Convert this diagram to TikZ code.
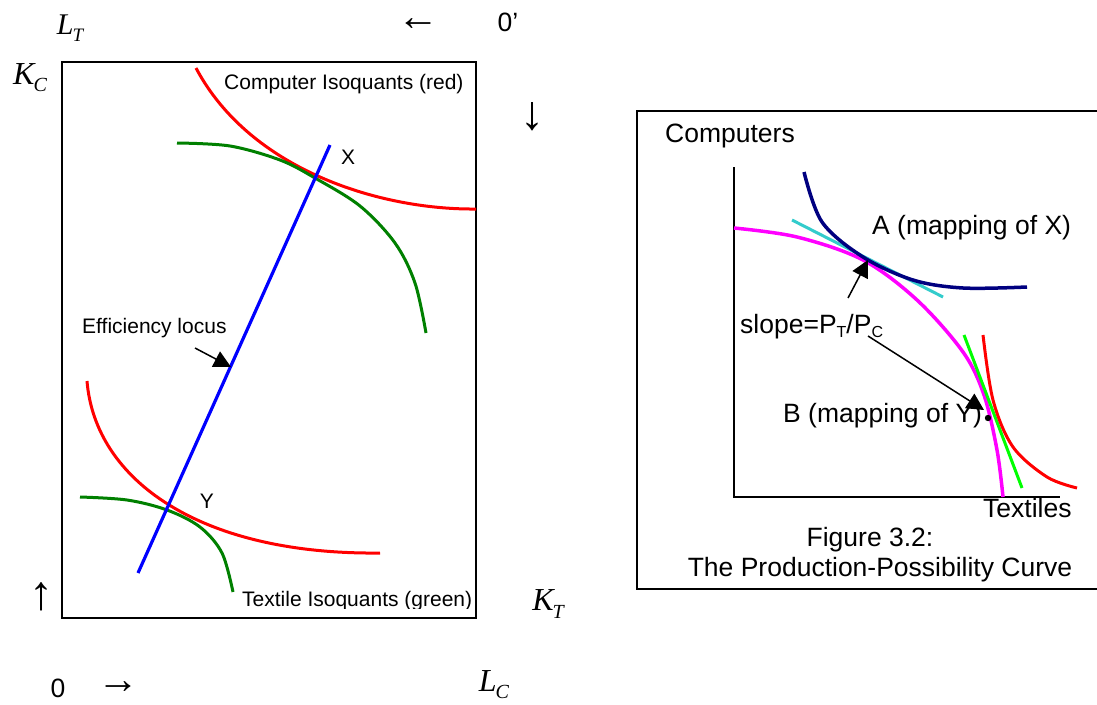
\documentclass[tikz,border=0pt]{standalone}
\usepackage{fontspec}
\setmainfont{Liberation Sans}
\newfontfamily\tnr{Liberation Serif}
\usetikzlibrary{arrows.meta}
\definecolor{dkgreen}{RGB}{0,128,0}
\definecolor{navyc}{RGB}{0,0,128}
\definecolor{cyanc}{RGB}{51,204,204}
\definecolor{brgreen}{RGB}{0,255,0}
\definecolor{magc}{RGB}{255,0,255}
\definecolor{redc}{RGB}{255,0,0}
\newcommand\sbs[1]{\raisebox{-4pt}{\fontsize{16}{16}\selectfont #1}}
\newcommand\msub[4]{{\fontsize{#3}{#3}\selectfont\tnr\itshape #1\kern-1pt\raisebox{-0.22em}{\fontsize{#4}{#4}\selectfont #2}}}
\tikzset{
  lbl/.style={font=\fontsize{21}{21}\selectfont, inner sep=0pt},
  big/.style={font=\fontsize{26.5}{26.5}\selectfont, inner sep=0pt},
  mth/.style={inner sep=0pt},
  harw/.style={inner sep=0pt, font=\fontsize{42}{42}\selectfont\tnr},
  varw/.style={inner sep=0pt, font=\fontsize{48}{48}\selectfont\tnr},
  curve/.style={line width=3pt},
  ptr/.style={-{Triangle[length=17pt,width=17pt]}, line width=1.5pt},
  frame/.style={line width=2pt}
}
\begin{document}
\begin{tikzpicture}[x=1pt,y=-1pt]
\useasboundingbox (0,0) rectangle (1097,704);
\fill[white] (0,0) rectangle (1097,704);

% ---------- left: Edgeworth box ----------
\node[frame, draw, minimum width=414pt, minimum height=556pt, anchor=north west, inner sep=0pt] (box) at (61,61) {};

\node[mth] (LT) at (70,28) {\msub{L}{T}{30}{19}};
\node[mth] (KC) at (30,78) {\msub{K}{C}{32}{20}};
\node[mth] (KT) at (548,604) {\msub{K}{T}{32}{20}};
\node[mth] (LC) at (494,685) {\msub{L}{C}{32}{20}};
\node[harw] (la) at (418,25) {←};
\node[varw] (da) at (532,117) {↓};
\node[varw] (ua) at (41,597) {↑};
\node[harw] (ra) at (118,688) {→};
\node[big] (o1) at (508,22) {0’};
\node[big] (o0) at (58,688) {0};

\node[lbl, anchor=west] (ciso) at (224,84) {Computer Isoquants (red)};
\node[lbl] (Xl) at (348,157) {X};
\node[lbl] (Yl) at (207,501) {Y};
\node[lbl, anchor=west] (eff) at (82,328) {Efficiency locus};
\begin{scope}
\clip (230,585) rectangle (480,608);
\node[lbl, anchor=base west] (tiso) at (242,606) {Textile Isoquants (green)};
\end{scope}

% upper isoquants
\draw[curve, redc] (196,68) .. controls (250,170) and (380,210) .. (476,209);
\draw[curve, dkgreen] plot[smooth, tension=0.55] coordinates {(177,143) (230,146) (280,160) (315,178) (360,206) (395,243) (415,283) (426,333)};
% lower isoquants
\draw[curve, redc] (87,381) .. controls (95,480) and (200,555) .. (380,553);
\draw[curve, dkgreen] plot[smooth, tension=0.55] coordinates {(80,497) (127,500) (167,510) (200,527) (222,553) (233,592)};
% efficiency locus
\coordinate (b1) at (138,573);
\coordinate (b2) at (330,145);
\draw[line width=3.2pt, blue] (b1) -- (b2);
\coordinate (e1) at (195,348);
\coordinate (e2) at (231,367);
\draw[ptr] (e1) -- (e2);

% ---------- right: PPC ----------
\draw[line width=1.5pt] (1100,111) -- (637,111) -- (637,589) -- (1100,589);
\node[big, anchor=west] (comp) at (665,136) {Computers};
\coordinate (o) at (734,497);
\coordinate (ytop) at (734,167);
\coordinate (xend) at (1060,497);
\draw[line width=1.5pt] (ytop) -- (o) -- (xend);

\node[big, anchor=west] (Al) at (872,228) {A (mapping of X)};
\node[big, anchor=west] (sl) at (740,327) {slope=P\sbs{T}/P\sbs{C}};
\node[big, anchor=west] (Bl) at (783,416) {B (mapping of Y)};
\node[big, anchor=west] (tex) at (983,508) {Textiles};
\node[big] (fig) at (870,540) {Figure 3.2:};
\begin{scope}
\clip (640,550) rectangle (1097,581);
\node[big] (ppc) at (880,570) {The Production-Possibility Curve};
\end{scope}

\draw[line width=3pt, cyanc] (792,220) -- (943,297);
\draw[line width=3.5pt, magc] plot[smooth, tension=0.55] coordinates {(734,228) (797,237) (863,260) (917,300) (963,352) (984,395) (997,450) (1003,497)};
\draw[line width=3.5pt, navyc] plot[smooth, tension=0.55] coordinates {(804,172) (822,222) (863,257) (913,280) (963,288) (1027,287)};
\draw[line width=3pt, brgreen] (964,335) -- (1022,488);
\draw[line width=3pt, redc] plot[smooth, tension=0.55] coordinates {(983,335) (993,400) (1013,447) (1047,477) (1077,488)};
\fill (988,418) circle (3.2pt);

\coordinate (a1) at (848,298);
\coordinate (a2) at (868,260);
\draw[ptr] (a1) -- (a2);
\coordinate (s1) at (868,336);
\coordinate (s2) at (984,410);
\draw[ptr] (s1) -- (s2);
\end{tikzpicture}
\end{document}
